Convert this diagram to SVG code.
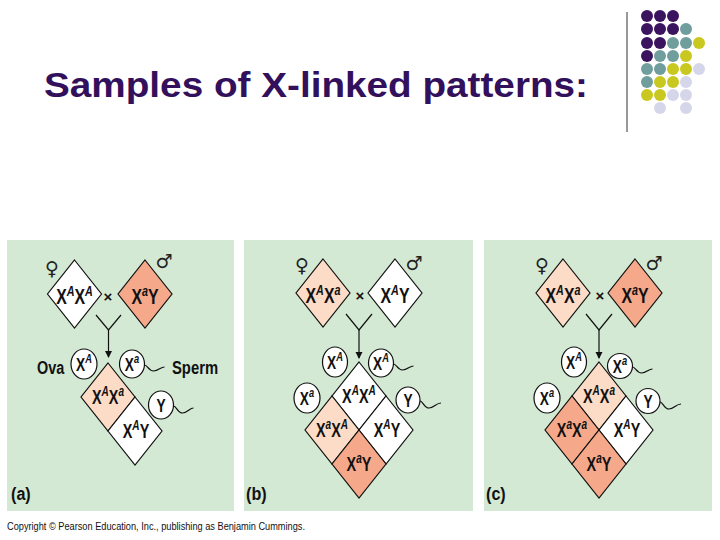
<svg xmlns="http://www.w3.org/2000/svg" width="720" height="540" viewBox="0 0 720 540">
<style>
.bg{fill:#d3e9d4}
.d{stroke:#111;stroke-width:1.2}
.w{fill:#ffffff}
.lp{fill:#fcdcc7}
.sa{fill:#f5a98a}
.c{fill:#ffffff;stroke:#111;stroke-width:1.2}
.t{font-family:"Liberation Sans",Arial,sans-serif;font-weight:bold;fill:#111;text-anchor:middle}
.p{font-size:22px}
.k{font-size:20px}
.o{font-size:19px}
.s{font-style:italic}
.sx{font-family:"DejaVu Sans",sans-serif;font-size:19px;fill:#222;text-anchor:middle}
.ln{fill:none;stroke:#111;stroke-width:1.2}
.lab{font-family:"Liberation Sans",Arial,sans-serif;font-weight:bold;font-size:19px;fill:#111}
</style>
<defs>
<marker id="ah" markerWidth="7" markerHeight="8" refX="6" refY="4" orient="auto" markerUnits="userSpaceOnUse"><path d="M0,0.5 L7,4 L0,7.5 z" fill="#111"/></marker>
</defs>
<rect width="720" height="540" fill="#ffffff"/>
<g id="title">
<text x="44" y="97" font-family="'Liberation Sans',Arial,sans-serif" font-weight="bold" font-size="35" fill="#32105c" textLength="544" lengthAdjust="spacingAndGlyphs">Samples of X-linked patterns:</text>
</g>
<g id="decoration">
<line x1="627" y1="12" x2="627" y2="132" stroke="#333" stroke-width="1"/>
<g fill="#3b1460">
<circle cx="647" cy="16" r="6"/><circle cx="660" cy="16" r="6"/><circle cx="673" cy="16" r="6"/>
<circle cx="647" cy="29" r="6"/><circle cx="660" cy="29" r="6"/><circle cx="673" cy="29" r="6"/>
<circle cx="647" cy="43" r="6"/><circle cx="660" cy="43" r="6"/>
<circle cx="647" cy="56" r="6"/>
</g>
<g fill="#6f9e9d">
<circle cx="686" cy="29" r="6"/>
<circle cx="673" cy="43" r="6"/><circle cx="686" cy="43" r="6"/>
<circle cx="660" cy="56" r="6"/><circle cx="673" cy="56" r="6"/>
<circle cx="647" cy="69" r="6"/><circle cx="660" cy="69" r="6"/>
<circle cx="647" cy="82" r="6"/>
</g>
<g fill="#c9c820">
<circle cx="699" cy="43" r="6"/>
<circle cx="686" cy="56" r="6"/>
<circle cx="673" cy="69" r="6"/><circle cx="686" cy="69" r="6"/>
<circle cx="660" cy="82" r="6"/><circle cx="673" cy="82" r="6"/>
<circle cx="647" cy="95" r="6"/><circle cx="660" cy="95" r="6"/>
</g>
<g fill="#d6d6ea">
<circle cx="699" cy="69" r="6"/>
<circle cx="686" cy="82" r="6"/>
<circle cx="673" cy="95" r="6"/><circle cx="686" cy="95" r="6"/>
<circle cx="660" cy="108" r="6"/><circle cx="686" cy="108" r="6"/>
</g>
</g>
<g id="panels">
<rect class="bg" x="7" y="240" width="227" height="271"/>
<rect class="bg" x="244" y="240" width="229" height="271"/>
<rect class="bg" x="484" y="240" width="228" height="271"/>
</g>
<g id="connectors">
<path class="ln" d="M96,315 L108.5,330 L121,315"/>
<line class="ln" x1="108.5" y1="330" x2="108.5" y2="357" marker-end="url(#ah)"/>
<path class="ln" d="M346,314 L359,330 L372,314"/>
<line class="ln" x1="359" y1="330" x2="359" y2="358" marker-end="url(#ah)"/>
<path class="ln" d="M586,314 L599,330 L612,314"/>
<line class="ln" x1="599" y1="330" x2="599" y2="358" stroke-width="0.9" marker-end="url(#ah)"/>
</g>
<!-- Panel a -->
<g id="a-female">
<text class="sx" x="52" y="275">♀</text>
<polygon class="d w" points="74.5,260 101.5,294 74.5,328 47.5,294"/>
<text class="t p" transform="translate(74.5,304) scale(0.72,1)">X<tspan class="s" font-size="15" dy="-8">A</tspan><tspan dy="8">X</tspan><tspan class="s" font-size="15" dy="-8">A</tspan></text>
</g>
<g id="a-cross"><text class="t" x="108" y="302" font-size="15" font-weight="normal">×</text></g>
<g id="a-male">
<text class="sx" x="164" y="268">♂</text>
<polygon class="d sa" points="145,260 172,294 145,328 118,294"/>
<text class="t p" transform="translate(145,304) scale(0.72,1)">X<tspan class="s" font-size="15" dy="-8">a</tspan><tspan dy="8">Y</tspan></text>
</g>
<g id="a-ova-label"><text class="lab" transform="translate(37,374) scale(0.76,1)">Ova</text></g>
<g id="a-sperm-label"><text class="lab" transform="translate(172,374) scale(0.78,1)">Sperm</text></g>
<g id="a-ovum-XA">
<ellipse class="c" cx="84" cy="364" rx="13" ry="15"/>
<text class="t o" transform="translate(84,371) scale(0.72,1)">X<tspan class="s" font-size="13" dy="-8">A</tspan></text>
</g>
<g id="a-sperm-Xa">
<ellipse class="c" cx="132" cy="364" rx="12.5" ry="14"/>
<path class="ln" d="M144.5,365 c3,0 4,6 9,6 c5,0 7,-4 11,-4"/>
<text class="t o" transform="translate(132,371) scale(0.72,1)">X<tspan class="s" font-size="13" dy="-8">a</tspan></text>
</g>
<g id="a-sperm-Y">
<ellipse class="c" cx="161" cy="405" rx="12.5" ry="14"/>
<path class="ln" d="M173.5,406 c3,0 4,7 9,7 c5,0 7,-5 11,-5"/>
<text class="t o" transform="translate(161,412) scale(0.72,1)">Y</text>
</g>
<g id="a-child-XAXa">
<polygon class="d lp" points="108,363 135,397 108,431 81,397"/>
<text class="t k" transform="translate(108,404) scale(0.72,1)">X<tspan class="s" font-size="14" dy="-8">A</tspan><tspan dy="8">X</tspan><tspan class="s" font-size="14" dy="-8">a</tspan></text>
</g>
<g id="a-child-XAY">
<polygon class="d w" points="135,397 162,431 135,465 108,431"/>
<text class="t k" transform="translate(136,438) scale(0.72,1)">X<tspan class="s" font-size="14" dy="-8">A</tspan><tspan dy="8">Y</tspan></text>
</g>
<g id="a-label"><text class="lab" transform="translate(11,500) scale(0.85,1)">(a)</text></g>
<!-- Panel b -->
<g id="b-female">
<text class="sx" x="302" y="272">♀</text>
<polygon class="d lp" points="323,259 350,293 323,327 296,293"/>
<text class="t p" transform="translate(323,303) scale(0.72,1)">X<tspan class="s" font-size="15" dy="-8">A</tspan><tspan dy="8">X</tspan><tspan class="s" font-size="15" dy="-8">a</tspan></text>
</g>
<g id="b-cross"><text class="t" x="360" y="301" font-size="15" font-weight="normal">×</text></g>
<g id="b-male">
<text class="sx" x="414" y="270">♂</text>
<polygon class="d w" points="395,259 422,293 395,327 368,293"/>
<text class="t p" transform="translate(395,303) scale(0.72,1)">X<tspan class="s" font-size="15" dy="-8">A</tspan><tspan dy="8">Y</tspan></text>
</g>
<g id="b-ovum-XA">
<ellipse class="c" cx="335" cy="362" rx="12.5" ry="15"/>
<text class="t o" transform="translate(335,369) scale(0.72,1)">X<tspan class="s" font-size="13" dy="-8">A</tspan></text>
</g>
<g id="b-ovum-Xa">
<ellipse class="c" cx="307" cy="398" rx="13" ry="15"/>
<text class="t o" transform="translate(307,405) scale(0.72,1)">X<tspan class="s" font-size="13" dy="-8">a</tspan></text>
</g>
<g id="b-sperm-XA">
<ellipse class="c" cx="381" cy="363" rx="12.5" ry="14"/>
<path class="ln" d="M393.5,364 c3,0 4,6 9,6 c5,0 7,-4 11,-4"/>
<text class="t o" transform="translate(381,370) scale(0.72,1)">X<tspan class="s" font-size="13" dy="-8">A</tspan></text>
</g>
<g id="b-sperm-Y">
<ellipse class="c" cx="408" cy="400" rx="12" ry="13"/>
<path class="ln" d="M420,401 c3,0 4,7 9,7 c5,0 7,-5 12,-5"/>
<text class="t o" transform="translate(408,407) scale(0.72,1)">Y</text>
</g>
<g id="b-child-XAXA">
<polygon class="d w" points="359,362 386,396 359,430 332,396"/>
<text class="t k" transform="translate(359,403) scale(0.72,1)">X<tspan class="s" font-size="14" dy="-8">A</tspan><tspan dy="8">X</tspan><tspan class="s" font-size="14" dy="-8">A</tspan></text>
</g>
<g id="b-child-XaXA">
<polygon class="d lp" points="332,396 359,430 332,464 305,430"/>
<text class="t k" transform="translate(332,437) scale(0.72,1)">X<tspan class="s" font-size="14" dy="-8">a</tspan><tspan dy="8">X</tspan><tspan class="s" font-size="14" dy="-8">A</tspan></text>
</g>
<g id="b-child-XAY">
<polygon class="d w" points="386,396 413,430 386,464 359,430"/>
<text class="t k" transform="translate(387,437) scale(0.72,1)">X<tspan class="s" font-size="14" dy="-8">A</tspan><tspan dy="8">Y</tspan></text>
</g>
<g id="b-child-XaY">
<polygon class="d sa" points="359,430 386,464 359,498 332,464"/>
<text class="t k" transform="translate(359,471) scale(0.72,1)">X<tspan class="s" font-size="14" dy="-8">a</tspan><tspan dy="8">Y</tspan></text>
</g>
<g id="b-label"><text class="lab" transform="translate(246,500) scale(0.85,1)">(b)</text></g>
<!-- Panel c -->
<g id="c-female">
<text class="sx" x="542" y="272">♀</text>
<polygon class="d lp" points="563,259 590,293 563,327 536,293"/>
<text class="t p" transform="translate(563,303) scale(0.72,1)">X<tspan class="s" font-size="15" dy="-8">A</tspan><tspan dy="8">X</tspan><tspan class="s" font-size="15" dy="-8">a</tspan></text>
</g>
<g id="c-cross"><text class="t" x="600" y="301" font-size="15" font-weight="normal">×</text></g>
<g id="c-male">
<text class="sx" x="654" y="270">♂</text>
<polygon class="d sa" points="635,259 662,293 635,327 608,293"/>
<text class="t p" transform="translate(635,303) scale(0.72,1)">X<tspan class="s" font-size="15" dy="-8">a</tspan><tspan dy="8">Y</tspan></text>
</g>
<g id="c-ovum-XA">
<ellipse class="c" cx="574" cy="362" rx="12.5" ry="15"/>
<text class="t o" transform="translate(574,369) scale(0.72,1)">X<tspan class="s" font-size="13" dy="-8">A</tspan></text>
</g>
<g id="c-ovum-Xa">
<ellipse class="c" cx="547" cy="398" rx="13" ry="15"/>
<text class="t o" transform="translate(547,405) scale(0.72,1)">X<tspan class="s" font-size="13" dy="-8">a</tspan></text>
</g>
<g id="c-sperm-Xa">
<ellipse class="c" cx="620" cy="366" rx="12.5" ry="12.5"/>
<path class="ln" d="M632.5,367 c3,0 4,6 9,6 c5,0 7,-4 11,-4"/>
<text class="t o" transform="translate(620,373) scale(0.72,1)">X<tspan class="s" font-size="13" dy="-8">a</tspan></text>
</g>
<g id="c-sperm-Y">
<ellipse class="c" cx="648" cy="401" rx="12" ry="12.5"/>
<path class="ln" d="M660,402 c3,0 4,7 9,7 c5,0 7,-5 12,-5"/>
<text class="t o" transform="translate(648,408) scale(0.72,1)">Y</text>
</g>
<g id="c-child-XAXa">
<polygon class="d lp" points="599,362 626,396 599,430 572,396"/>
<text class="t k" transform="translate(599,403) scale(0.72,1)">X<tspan class="s" font-size="14" dy="-8">A</tspan><tspan dy="8">X</tspan><tspan class="s" font-size="14" dy="-8">a</tspan></text>
</g>
<g id="c-child-XaXa">
<polygon class="d sa" points="572,396 599,430 572,464 545,430"/>
<text class="t k" transform="translate(572,437) scale(0.72,1)">X<tspan class="s" font-size="14" dy="-8">a</tspan><tspan dy="8">X</tspan><tspan class="s" font-size="14" dy="-8">a</tspan></text>
</g>
<g id="c-child-XAY">
<polygon class="d w" points="626,396 653,430 626,464 599,430"/>
<text class="t k" transform="translate(627,437) scale(0.72,1)">X<tspan class="s" font-size="14" dy="-8">A</tspan><tspan dy="8">Y</tspan></text>
</g>
<g id="c-child-XaY">
<polygon class="d sa" points="599,430 626,464 599,498 572,464"/>
<text class="t k" transform="translate(599,471) scale(0.72,1)">X<tspan class="s" font-size="14" dy="-8">a</tspan><tspan dy="8">Y</tspan></text>
</g>
<g id="c-label"><text class="lab" transform="translate(486,500) scale(0.85,1)">(c)</text></g>
<g id="copyright">
<text x="7" y="530" font-family="'Liberation Sans',Arial,sans-serif" font-size="11" fill="#111" textLength="298" lengthAdjust="spacingAndGlyphs">Copyright © Pearson Education, Inc., publishing as Benjamin Cummings.</text>
</g>
</svg>
